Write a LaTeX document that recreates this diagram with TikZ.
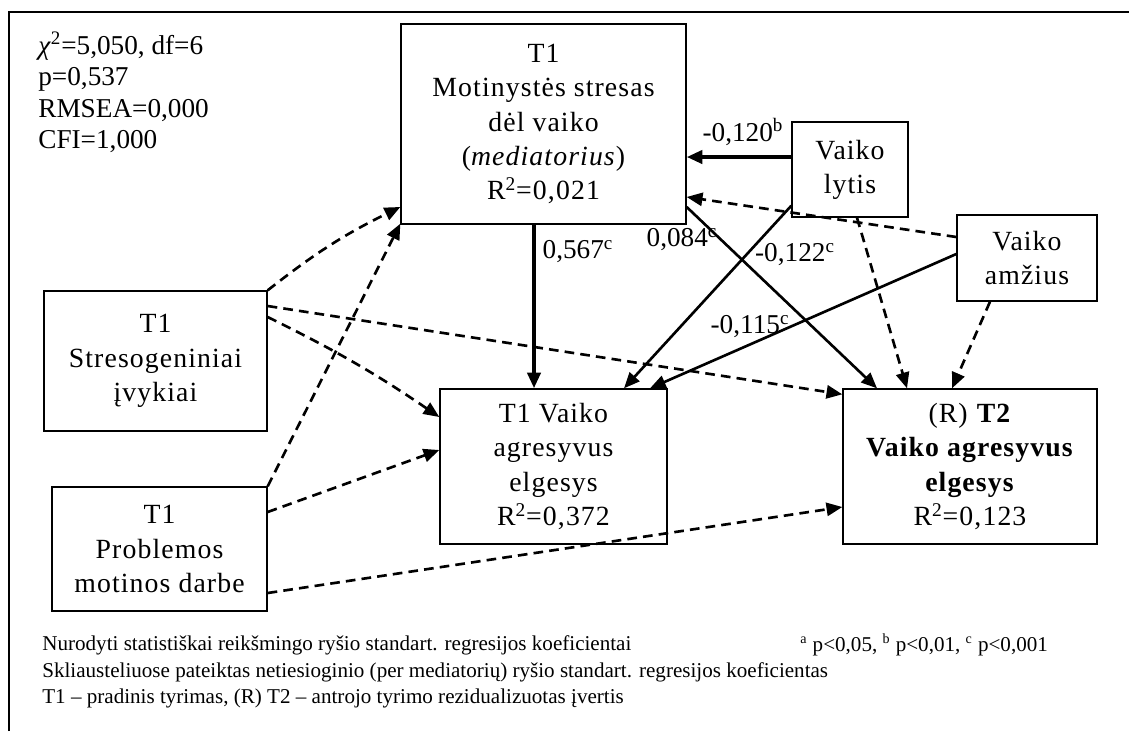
\documentclass[tikz,border=0pt]{standalone}
\usepackage{fontspec}
\setmainfont{Liberation Serif}
\newfontfamily\boxfont[LetterSpace=4]{Liberation Serif}
\usetikzlibrary{arrows.meta, positioning, calc}

\begin{document}
\begin{tikzpicture}[x=0.02cm, y=-0.02cm,
  box/.style={draw, line width=0.8pt, align=center, inner sep=0pt,
    font=\boxfont\fontsize{15.8}{19.5}\selectfont},
  coef/.style={font=\fontsize{15.5}{18}\selectfont, inner sep=1pt},
  sig/.style={line width=1.5pt, -{Triangle[length=9pt,width=7.5pt]}},
  sigbold/.style={sig, line width=2.2pt},
  nonsig/.style={sig, dash pattern=on 5.5pt off 3.5pt},
  note/.style={anchor=west, inner sep=0pt, font=\fontsize{12}{14}\selectfont}]
  \useasboundingbox (0,0) rectangle (1129,731);

  % Frame
  \draw[line width=0.8pt] (9,731) -- (9,12) -- (1129,12);

  % Fit indices
  \node[anchor=north west, align=left, inner sep=0pt,
        font=\fontsize{15.5}{17.9}\selectfont] (fit) at (38,32)
       {\textit{χ}\textsuperscript{2}=5,050, df=6\\p=0,537\\RMSEA=0,000\\CFI=1,000};

  % Variables
  \node[box, minimum width=5.7cm, minimum height=4cm] (med) at (543.5,124)
       {T1\\Motinystės stresas\\dėl vaiko\\(\textit{mediatorius})\\R\textsuperscript{2}=0,021};
  \node[box, minimum width=2.32cm, minimum height=1.9cm] (lytis) at (850,169.5)
       {Vaiko\\lytis};
  \node[box, minimum width=2.8cm, minimum height=1.72cm] (amz) at (1027,258)
       {Vaiko\\amžius};
  \node[box, minimum width=4.46cm, minimum height=2.8cm] (stres) at (155.5,361)
       {T1\\Stresogeniniai\\įvykiai};
  \node[box, minimum width=4.3cm, minimum height=2.48cm] (probl) at (159.5,549)
       {T1\\Problemos\\motinos darbe};
  \node[box, minimum width=4.54cm, minimum height=3.1cm] (agg1) at (553.5,466.5)
       {T1 Vaiko\\agresyvus\\elgesys\\R\textsuperscript{2}=0,372};
  \node[box, minimum width=5.08cm, minimum height=3.1cm] (agg2) at (970,466.5)
       {(R) \textbf{T2}\\\textbf{Vaiko agresyvus}\\\textbf{elgesys}\\R\textsuperscript{2}=0,123};

  % Significant paths
  \draw[sigbold] ([yshift=0.25cm]lytis.west) coordinate (l1) -- (l1 -| med.east);
  \draw[sigbold] ([xshift=-0.19cm]med.south) coordinate (m1) -- (m1 |- agg1.north);
  \draw[sig] ([yshift=0.24cm]lytis.south west) -- ([xshift=1.41cm]agg1.north);
  \draw[sig] ([yshift=0.08cm]amz.west) -- ([xshift=1.93cm]agg1.north);
  \draw[sig] ([yshift=-1.66cm]med.east) -- ([xshift=-1.86cm]agg2.north);

  % Non-significant paths
  \draw[nonsig] ([yshift=0.42cm]amz.west) -- ([yshift=-1.46cm]med.east);
  \draw[nonsig] ([xshift=0.14cm]lytis.south) -- ([xshift=-1.26cm]agg2.north);
  \draw[nonsig] ([xshift=-0.74cm]amz.south) -- ([xshift=-0.36cm]agg2.north);
  \draw[nonsig] (stres.north east) to[bend left=6] ([yshift=-1.66cm]med.west);
  \draw[nonsig] (probl.north east) -- ([yshift=0.02cm]med.south west);
  \draw[nonsig] ([yshift=1.1cm]stres.east) -- ([yshift=-0.12cm]agg2.north west);
  \draw[nonsig] ([yshift=0.88cm]stres.east) to[bend left=4] ([yshift=0.99cm]agg1.west);
  \draw[nonsig] ([yshift=0.74cm]probl.east) -- ([yshift=0.33cm]agg1.west);
  \draw[nonsig] ([yshift=-0.88cm]probl.east) -- ([yshift=-0.81cm]agg2.west);

  % Coefficients
  \node[coef] (c1) at (743,132) {-0,120\textsuperscript{b}};
  \node[coef] (c2) at (578,252) {0,567\textsuperscript{c}};
  \node[coef] (c3) at (682,240) {0,084\textsuperscript{c}};
  \node[coef] (c4) at (795,255) {-0,122\textsuperscript{c}};
  \node[coef] (c5) at (750,327) {-0,115\textsuperscript{c}};

  % Notes
  \node[note] (n1) at (42,645) {Nurodyti statistiškai reikšmingo ryšio standart. regresijos koeficientai};
  \node[note] (n0) at (800,645) {\textsuperscript{a} p<0,05, \textsuperscript{b} p<0,01, \textsuperscript{c} p<0,001};
  \node[note] (n2) at (42,672) {Skliausteliuose pateiktas netiesioginio (per mediatorių) ryšio standart. regresijos koeficientas};
  \node[note] (n3) at (42,698) {T1 – pradinis tyrimas, (R) T2 – antrojo tyrimo rezidualizuotas įvertis};
\end{tikzpicture}
\end{document}
